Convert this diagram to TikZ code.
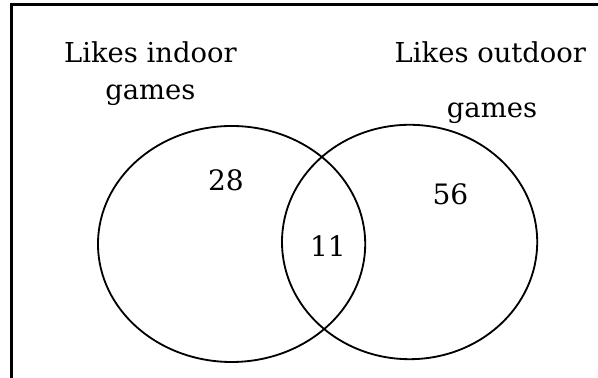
\documentclass[tikz,border=0pt]{standalone}
\usepackage{fontspec}
\setmainfont{DejaVu Serif}
\tikzset{
  lbl/.style={anchor=base, inner sep=0pt, font=\fontsize{19.5}{23}\selectfont},
  num/.style={inner sep=0pt, font=\fontsize{20}{24}\selectfont},
}
\begin{document}
\begin{tikzpicture}
\useasboundingbox (0,0) rectangle (14.95,9.45);
\draw[line width=1.9pt] (0.29,0) -- (0.29,9.34) -- (14.95,9.34);
\draw[line width=1.3pt] (5.79,3.35) ellipse (3.34 and 2.95);
\draw[line width=1.3pt] (10.24,3.40) ellipse (3.19 and 2.93);
\node[lbl] (inA) at (3.76,7.875) {Likes indoor};
\node[lbl] (inB) at (3.76,6.95) {games};
\node[lbl] (outA) at (12.26,7.875) {Likes outdoor};
\node[lbl] (outB) at (12.30,6.50) {games};
\node[num] (onlyin) at (5.65,4.94) {28};
\node[num] (both) at (8.20,3.29) {11};
\node[num] (onlyout) at (11.26,4.60) {56};
\end{tikzpicture}
\end{document}
